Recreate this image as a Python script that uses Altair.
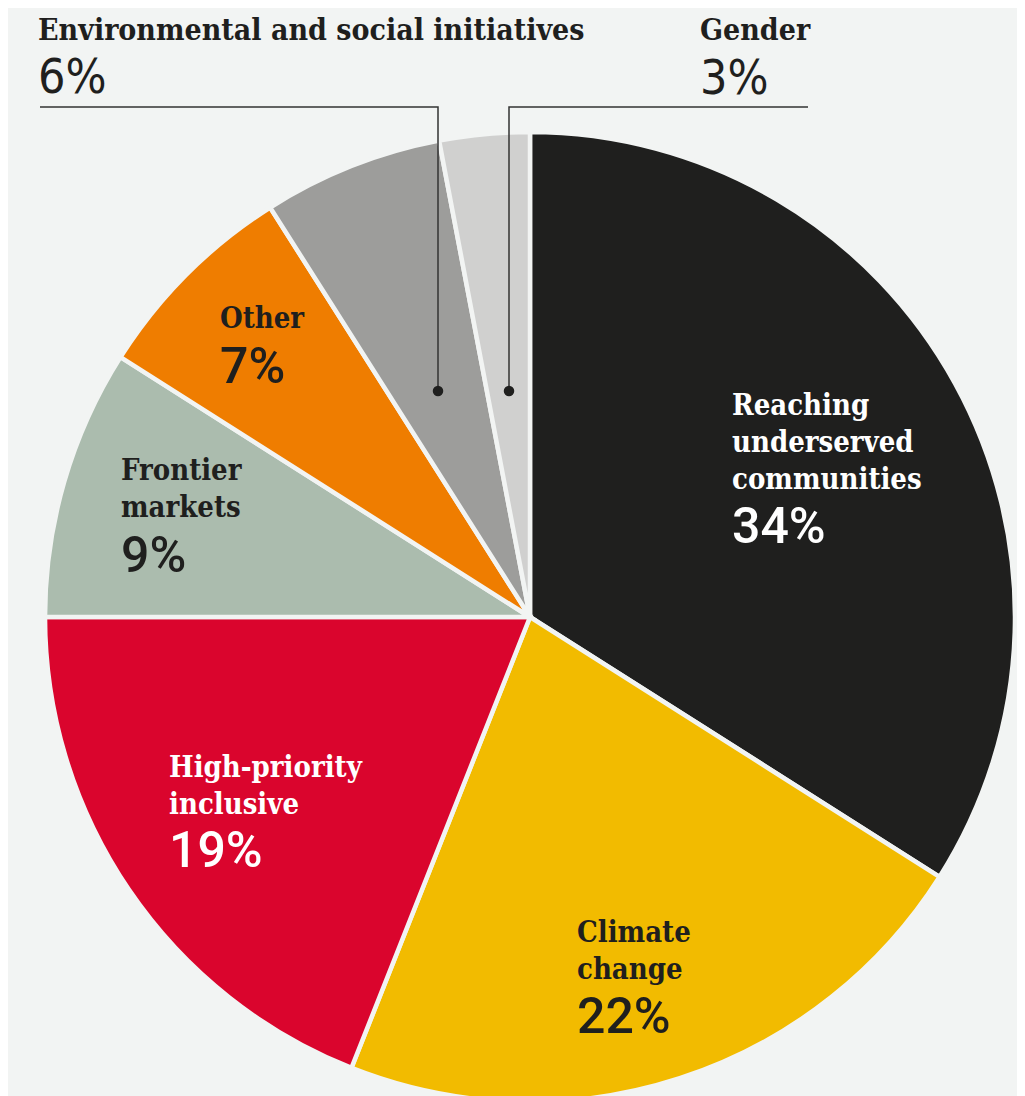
import altair as alt
import pandas as pd

# ---- data ----
categories = ["Reaching underserved communities", "Climate change", "High-priority inclusive",
              "Frontier markets", "Other", "Environmental and social initiatives", "Gender"]
values = [34, 22, 19, 9, 7, 6, 3]
colors = ["#1f1f1e", "#f2bb00", "#da052d", "#abbcae", "#ef7d00", "#9d9d9b", "#d0d0cf"]

# label text (multi-line names) and their annotation layout (pixel positions in plot area)
label_names = ["Reaching\nunderserved\ncommunities", "Climate\nchange", "High-priority\ninclusive",
               "Frontier\nmarkets", "Other"]
label_pct = ["34%", "22%", "19%", "9%", "7%"]
label_colors = ["white", "#1f1f1e", "white", "#1f1f1e", "#1f1f1e"]
label_x = [724, 569, 161, 113, 212]
label_y = [407, 934, 769, 472, 320]
pct_y = [535, 1025, 859, 564, 375]

top_names = ["Environmental and social initiatives", "Gender"]
top_pct = ["6%", "3%"]
top_x = [30, 692]
top_y = [32, 32]
top_pct_y = [85, 86]

BG = "#f2f4f3"
CX, CY, R = 522, 609, 485

pie_df = pd.DataFrame({"cat": categories, "value": values, "idx": list(range(len(values)))})

pie = alt.Chart(pie_df).mark_arc(radius=R, stroke=BG, strokeWidth=4.5).encode(
    theta=alt.Theta("value:Q", stack=True),
    color=alt.Color("cat:N", scale=alt.Scale(domain=categories, range=colors), legend=None),
    order=alt.Order("idx:Q"),
    x=alt.value(CX),
    y=alt.value(CY),
)

lab_df = pd.DataFrame({"name": label_names, "pct": label_pct, "col": label_colors,
                       "x": label_x, "y": label_y, "py": pct_y})

names = alt.Chart(lab_df).mark_text(
    font="DejaVu Serif Condensed", fontWeight="bold", fontSize=29, align="left",
    baseline="alphabetic", lineHeight=37, lineBreak="\n"
).encode(
    x=alt.X("x:Q", scale=None), y=alt.Y("y:Q", scale=None),
    text="name:N", color=alt.Color("col:N", scale=None)
)

pcts = alt.Chart(lab_df).mark_text(
    font="Roboto", fontWeight=500, fontSize=50, align="left", baseline="alphabetic"
).encode(
    x=alt.X("x:Q", scale=None), y=alt.Y("py:Q", scale=None),
    text="pct:N", color=alt.Color("col:N", scale=None)
)

top_df = pd.DataFrame({"name": top_names, "pct": top_pct, "x": top_x, "y": top_y, "py": top_pct_y})

top_names_t = alt.Chart(top_df).mark_text(
    font="DejaVu Serif Condensed", fontWeight="bold", fontSize=30, align="left",
    baseline="alphabetic", color="#1f1f1e"
).encode(x=alt.X("x:Q", scale=None), y=alt.Y("y:Q", scale=None), text="name:N")

top_pcts_t = alt.Chart(top_df).mark_text(
    font="DejaVu Sans Condensed", fontSize=48, align="left",
    baseline="alphabetic", color="#1f1f1e"
).encode(x=alt.X("x:Q", scale=None), y=alt.Y("py:Q", scale=None), text="pct:N")

# leader lines (annotation geometry)
lead_df = pd.DataFrame({
    "grp": ["env", "env", "env", "gen", "gen", "gen"],
    "ord": [0, 1, 2, 0, 1, 2],
    "x": [32, 430, 430, 800, 501, 501],
    "y": [99, 99, 383, 99, 99, 383],
})
leaders = alt.Chart(lead_df).mark_line(color="#333333", strokeWidth=1.5).encode(
    x=alt.X("x:Q", scale=None), y=alt.Y("y:Q", scale=None),
    detail="grp:N", order="ord:Q"
)
dots_df = pd.DataFrame({"x": [430, 501], "y": [383, 383]})
dots = alt.Chart(dots_df).mark_circle(size=110, color="#1f1f1e", opacity=1).encode(
    x=alt.X("x:Q", scale=None), y=alt.Y("y:Q", scale=None)
)

chart = alt.layer(pie, leaders, dots, names, pcts, top_names_t, top_pcts_t).properties(
    width=1009, height=1088, background=BG, padding=0, autosize="none"
).configure_view(stroke=None)

chart.save("out.html", embed_options={"renderer": "svg", "actions": False})
